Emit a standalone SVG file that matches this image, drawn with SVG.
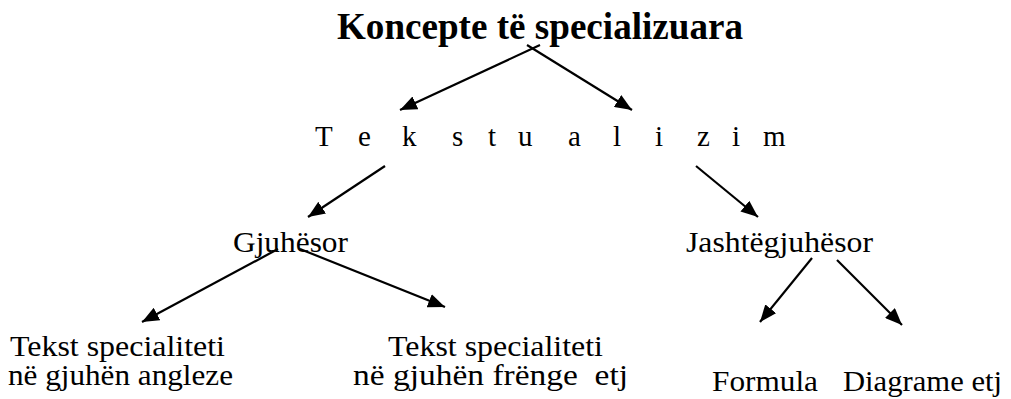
<svg xmlns="http://www.w3.org/2000/svg" width="1011" height="399" viewBox="0 0 1011 399">
  <style>
    .t { font-family: "Liberation Serif", "Times New Roman", serif; fill: #000; }
    .title { font-size: 37px; font-weight: bold; }
    .lvl1 { font-size: 29px; }
    .body { font-size: 29px; }
    .edge { stroke: #000; stroke-width: 2.2; fill: none; marker-end: url(#arrow); }
  </style>
  <defs>
    <marker id="arrow" markerUnits="userSpaceOnUse" markerWidth="18" markerHeight="14" refX="17" refY="7" orient="auto">
      <path d="M0,0 L17,7 L0,14 Z" fill="#000"/>
    </marker>
  </defs>
  <rect width="1011" height="399" fill="#fff"/>

  <g id="node-title">
    <text class="t title" x="337" y="39" textLength="406" lengthAdjust="spacingAndGlyphs">Koncepte të specializuara</text>
  </g>
  <g id="node-tekstualizim">
    <text class="t lvl1" y="146" x="315 358 402 452 488 518 568 613 655 697 732 763">Tekstualizim</text>
  </g>
  <g id="node-gjuhesor">
    <text class="t body" x="233" y="252" textLength="115" lengthAdjust="spacingAndGlyphs">Gjuhësor</text>
  </g>
  <g id="node-jashtegjuhesor">
    <text class="t body" x="686" y="252" textLength="187" lengthAdjust="spacingAndGlyphs">Jashtëgjuhësor</text>
  </g>
  <g id="node-anglisht">
    <text class="t body" x="10" y="356" textLength="215" lengthAdjust="spacingAndGlyphs">Tekst specialiteti</text>
    <text class="t body" x="8" y="385" textLength="225" lengthAdjust="spacingAndGlyphs">në gjuhën angleze</text>
  </g>
  <g id="node-frengjisht">
    <text class="t body" x="388" y="356" textLength="215" lengthAdjust="spacingAndGlyphs">Tekst specialiteti</text>
    <text class="t body" x="353" y="385" textLength="275" lengthAdjust="spacingAndGlyphs" xml:space="preserve">në gjuhën frënge  etj</text>
  </g>
  <g id="node-formula">
    <text class="t body" x="712" y="391" textLength="106" lengthAdjust="spacingAndGlyphs">Formula</text>
  </g>
  <g id="node-diagrame">
    <text class="t body" x="843" y="391" textLength="159" lengthAdjust="spacingAndGlyphs">Diagrame etj</text>
  </g>

  <g id="connectors">
    <line class="edge" x1="540" y1="45" x2="400" y2="110"/>
    <line class="edge" x1="527" y1="45" x2="632" y2="110"/>
    <line class="edge" x1="385" y1="166" x2="308" y2="217"/>
    <line class="edge" x1="696" y1="166" x2="758" y2="217"/>
    <line class="edge" x1="278" y1="249" x2="142" y2="322"/>
    <line class="edge" x1="300" y1="249" x2="445" y2="307"/>
    <line class="edge" x1="812" y1="258" x2="760" y2="322"/>
    <line class="edge" x1="837" y1="260" x2="902" y2="325"/>
  </g>
</svg>
